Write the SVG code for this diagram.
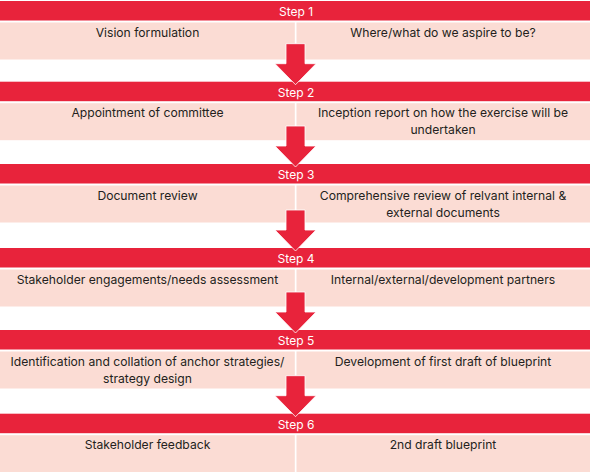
<svg xmlns="http://www.w3.org/2000/svg" width="591" height="472" viewBox="0 0 591 472">
<style>
.bar{fill:#E8233B}
.cell{fill:#FBDCD4}
.arrow{fill:#E8233B;stroke:#ffffff;stroke-width:0.8}
.step{font-family:Inter,"Liberation Sans",Arial,sans-serif;font-size:12px;fill:#ffffff;text-anchor:middle}
.txt{font-family:Inter,"Liberation Sans",Arial,sans-serif;font-size:12.15px;fill:#231f20;text-anchor:middle}
</style>
<rect width="591" height="472" fill="#ffffff"/>
<g id="step1">
<rect class="bar" x="0" y="1" width="590" height="19.5"/>
<text class="step" x="296" y="16">Step 1</text>
<rect class="cell" x="0" y="22.5" width="294.8" height="37"/>
<rect class="cell" x="296.5" y="22.5" width="293.5" height="37"/>
<text class="txt" x="147.5" y="36.5">Vision formulation</text>
<text class="txt" x="443" y="36.5">Where/what do we aspire to be?</text>
</g>
<g id="step2">
<rect class="bar" x="0" y="81.7" width="590" height="19.5"/>
<text class="step" x="296" y="97">Step 2</text>
<rect class="cell" x="0" y="103.2" width="294.8" height="37"/>
<rect class="cell" x="296.5" y="103.2" width="293.5" height="37"/>
<text class="txt" x="147.5" y="117.3">Appointment of committee</text>
<text class="txt" x="443" y="117.3">Inception report on how the exercise will be</text>
<text class="txt" x="443" y="134.3">undertaken</text>
</g>
<g id="step3">
<rect class="bar" x="0" y="164" width="590" height="19.5"/>
<text class="step" x="296" y="179.3">Step 3</text>
<rect class="cell" x="0" y="185.5" width="294.8" height="37"/>
<rect class="cell" x="296.5" y="185.5" width="293.5" height="37"/>
<text class="txt" x="147.5" y="199.6">Document review</text>
<text class="txt" x="443" y="199.6">Comprehensive review of relvant internal &amp;</text>
<text class="txt" x="443" y="216.6">external documents</text>
</g>
<g id="step4">
<rect class="bar" x="0" y="248" width="590" height="19.5"/>
<text class="step" x="296" y="263.3">Step 4</text>
<rect class="cell" x="0" y="269.5" width="294.8" height="37"/>
<rect class="cell" x="296.5" y="269.5" width="293.5" height="37"/>
<text class="txt" x="147.5" y="283.6">Stakeholder engagements/needs assessment</text>
<text class="txt" x="443" y="283.6">Internal/external/development partners</text>
</g>
<g id="step5">
<rect class="bar" x="0" y="330" width="590" height="19.5"/>
<text class="step" x="296" y="345.3">Step 5</text>
<rect class="cell" x="0" y="351.5" width="294.8" height="37"/>
<rect class="cell" x="296.5" y="351.5" width="293.5" height="37"/>
<text class="txt" x="147.5" y="365.6">Identification and collation of anchor strategies/</text>
<text class="txt" x="147.5" y="382.6">strategy design</text>
<text class="txt" x="443" y="365.6">Development of first draft of blueprint</text>
</g>
<g id="step6">
<rect class="bar" x="0" y="413.7" width="590" height="19.5"/>
<text class="step" x="296" y="429">Step 6</text>
<rect class="cell" x="0" y="435.2" width="294.8" height="37"/>
<rect class="cell" x="296.5" y="435.2" width="293.5" height="37"/>
<text class="txt" x="147.5" y="449.3">Stakeholder feedback</text>
<text class="txt" x="443" y="449.3">2nd draft blueprint</text>
</g>
<g id="connectors">
<polygon class="arrow" points="286,43.7 305,43.7 305,63.7 316,63.7 295.5,84.7 275,63.7 286,63.7"/>
<polygon class="arrow" points="286,126 305,126 305,146 316,146 295.5,167 275,146 286,146"/>
<polygon class="arrow" points="286,210 305,210 305,230 316,230 295.5,251 275,230 286,230"/>
<polygon class="arrow" points="286,292 305,292 305,312 316,312 295.5,333 275,312 286,312"/>
<polygon class="arrow" points="286,375.7 305,375.7 305,395.7 316,395.7 295.5,416.7 275,395.7 286,395.7"/>
</g>
</svg>
